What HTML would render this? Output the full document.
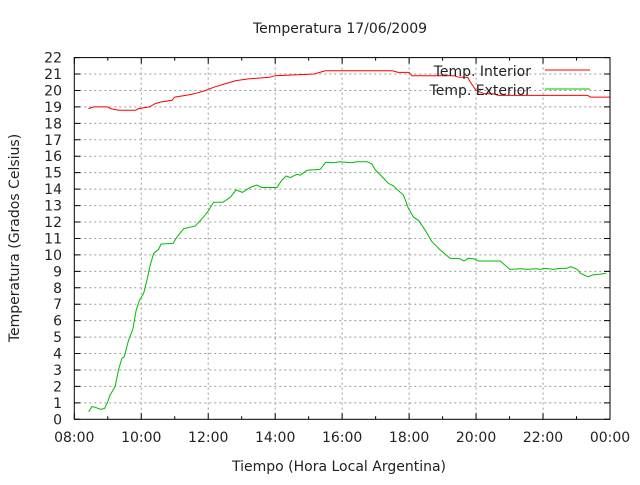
<!DOCTYPE html>
<html><head><meta charset="utf-8"><style>
body{margin:0;background:#fff}
svg text{font-family:"DejaVu Sans","Liberation Sans",sans-serif;font-size:14px;fill:#222}
</style></head><body>
<svg id="c" width="640" height="480" xmlns="http://www.w3.org/2000/svg">
<text x="340" y="33" text-anchor="middle">Temperatura 17/06/2009</text>
<text x="339" y="471" text-anchor="middle">Tiempo (Hora Local Argentina)</text>
<text transform="translate(19,238) rotate(-90)" text-anchor="middle">Temperatura (Grados Celsius)</text>
<g id="grid"></g><g id="ticks"></g><g id="series"></g>
<rect x="74.3" y="57.6" width="535.7" height="361.7" fill="none" stroke="#000" stroke-width="1"/>
<g>
<text x="531" y="76" text-anchor="end">Temp. Interior</text>
<line x1="545" x2="590" y1="70" y2="70" stroke="#f00"/>
<text x="531" y="95" text-anchor="end">Temp. Exterior</text>
<line x1="545" x2="590" y1="89" y2="89" stroke="#0b0"/>
</g>
</svg>
<script>
const yTicks=[0,1,2,3,4,5,6,7,8,9,10,11,12,13,14,15,16,17,18,19,20,21,22];
const xTickHours=[8,10,12,14,16,18,20,22,24];
const xTickLabels=["08:00","10:00","12:00","14:00","16:00","18:00","20:00","22:00","00:00"];
const interiorT=[8.42,8.58,9.0,9.08,9.33,9.83,9.92,10.25,10.42,10.58,10.92,11.0,11.33,11.58,11.92,12.17,12.5,12.83,13.17,13.83,14.0,15.17,15.33,15.5,17.5,17.67,18.0,18.08,19.33,19.5,19.75,19.83,20.0,20.25,20.5,20.67,23.33,23.42,24.0];
const interiorV=[18.9,19.0,19.0,18.9,18.8,18.8,18.9,19.0,19.2,19.3,19.4,19.6,19.7,19.8,20.0,20.2,20.4,20.6,20.7,20.8,20.9,21.0,21.1,21.2,21.2,21.1,21.1,20.9,20.9,20.8,20.8,20.5,20.0,19.8,19.8,19.7,19.7,19.6,19.6];
const exteriorT=[8.43,8.53,8.63,8.78,8.9,8.98,9.07,9.22,9.32,9.42,9.49,9.62,9.75,9.85,9.95,10.07,10.17,10.27,10.37,10.52,10.59,10.95,11.07,11.27,11.61,11.86,12.01,12.16,12.44,12.66,12.83,13.02,13.25,13.45,13.6,14.05,14.2,14.33,14.45,14.65,14.75,14.95,15.34,15.51,15.74,15.94,16.29,16.44,16.74,16.89,16.99,17.19,17.38,17.53,17.68,17.83,17.98,18.13,18.28,18.48,18.68,18.93,19.22,19.52,19.64,19.77,19.92,20.07,20.72,21.01,21.36,21.51,21.81,21.91,22.06,22.31,22.51,22.7,22.83,23.02,23.12,23.35,23.48,23.7,23.88];
const exteriorV=[0.46,0.77,0.73,0.61,0.65,0.97,1.48,1.98,3.0,3.7,3.8,4.8,5.5,6.65,7.25,7.65,8.47,9.4,10.1,10.34,10.66,10.7,11.1,11.6,11.75,12.3,12.7,13.2,13.2,13.5,13.95,13.8,14.1,14.25,14.1,14.1,14.55,14.8,14.7,14.9,14.85,15.15,15.2,15.63,15.6,15.67,15.6,15.67,15.67,15.53,15.17,14.76,14.35,14.2,13.9,13.65,12.83,12.3,12.1,11.5,10.8,10.3,9.8,9.77,9.63,9.79,9.77,9.63,9.63,9.12,9.16,9.12,9.16,9.12,9.18,9.12,9.18,9.18,9.28,9.12,8.88,8.67,8.78,8.82,8.88];
const X0=74.3,X1=610,Y0=419.3,Y1=57.6;
const xs=h=>X0+(h-8)/16*(X1-X0);
const ys=v=>Y0-v/22*(Y0-Y1);
const NS="http://www.w3.org/2000/svg";
function mk(tag,attrs,parent){const e=document.createElementNS(NS,tag);for(const k in attrs)e.setAttribute(k,attrs[k]);parent.appendChild(e);return e;}
const grid=document.getElementById('grid'),ticks=document.getElementById('ticks'),series=document.getElementById('series'),svg=document.getElementById('c');
yTicks.forEach(v=>{
  const y=ys(v);
  if(v>0&&v<22){const g=mk('line',{x1:X0,x2:X1,y1:y,y2:y,stroke:'#999','stroke-dasharray':'2,3'},grid);
  
  }
  const t=mk('path',{d:`M${X0},${y}h6M${X1},${y}h-6`,stroke:'#000'},ticks);
  
  
  const l=mk('text',{x:62,y:y+5,'text-anchor':'end'},svg);l.textContent=v;
  
  
});
xTickHours.forEach((h,i)=>{
  const x=xs(h);
  if(h>8&&h<24){const g=mk('line',{x1:x,x2:x,y1:Y1,y2:Y0,stroke:'#999','stroke-dasharray':'2,3'},grid);
  
  }
  const t=mk('path',{d:`M${x},${Y0}v-6M${x},${Y1}v6`,stroke:'#000'},ticks);
  
  
  if(h<24){const xm=xs(h+1);const m=mk('path',{d:`M${xm},${Y0}v-3M${xm},${Y1}v3`,stroke:'#000'},ticks);
  
  }
  const l=mk('text',{x:x,y:442,'text-anchor':'middle'},svg);l.textContent=xTickLabels[i];
  
  
});
function line(T,V,color,name){
  const d=T.map((t,i)=>(i?'L':'M')+xs(t).toFixed(1)+','+ys(V[i]).toFixed(1)).join('');
  const p=mk('path',{d:d,fill:'none',stroke:color,'stroke-width':1},series);
  
  
}
line(interiorT,interiorV,'#f00','interior-temperature-line');
line(exteriorT,exteriorV,'#0b0','exterior-temperature-line');
</script>
</body></html>
